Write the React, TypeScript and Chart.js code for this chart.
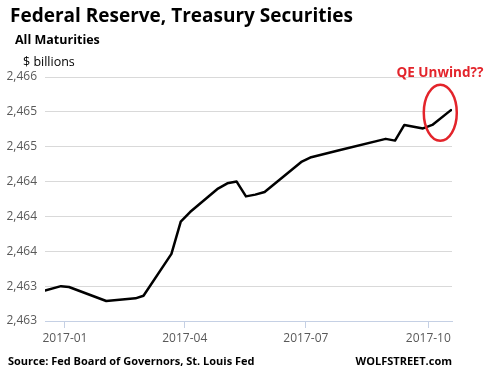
import React, { useEffect, useRef } from "react";
import { Chart, registerables } from "chart.js";

Chart.register(...registerables);

const DATES = [
  "2016-12-17", "2016-12-29", "2017-01-04", "2017-02-01", "2017-02-23", "2017-03-01",
  "2017-03-22", "2017-03-29", "2017-04-05", "2017-04-26", "2017-05-03", "2017-05-10",
  "2017-05-17", "2017-05-24", "2017-05-31", "2017-06-28", "2017-07-05", "2017-07-26",
  "2017-08-30", "2017-09-06", "2017-09-13", "2017-09-27", "2017-10-04", "2017-10-18",
];
const VALUES = [
  2463.15, 2463.2, 2463.19, 2463.03, 2463.06, 2463.09,
  2463.57, 2463.94, 2464.05, 2464.32, 2464.38, 2464.4,
  2464.23, 2464.25, 2464.28, 2464.63, 2464.68, 2464.76,
  2464.89, 2464.87, 2465.05, 2465.01, 2465.05, 2465.22,
];
const TICK_DATES = ["2017-01-01", "2017-04-01", "2017-07-01", "2017-10-01"];
const TICK_LABELS = ["2017-01", "2017-04", "2017-07", "2017-10"];
const X_MIN_DATE = "2016-12-17";
const X_MAX_DATE = "2017-10-18";
const Y_MIN = 2462.8;
const Y_MAX = 2465.6;
const Y_STEP = 0.4;
const ANNOT_DATE = "2017-10-10";
const ANNOT_VALUE = 2465.19;

const ORIGIN = Date.UTC(2017, 0, 1);
const toDay = (s: string) => {
  const [y, m, d] = s.split("-").map(Number);
  return (Date.UTC(y, m - 1, d) - ORIGIN) / 86400000;
};

const FONT = "'Open Sans', sans-serif";

export default function App() {
  const ref = useRef<HTMLCanvasElement | null>(null);
  useEffect(() => {
    if (!ref.current) return;
    const tickDays = TICK_DATES.map(toDay);
    const ellipsePlugin = {
      id: "ellipse",
      afterDatasetsDraw(chart: any) {
        const { ctx, scales } = chart;
        const cx = scales.x.getPixelForValue(toDay(ANNOT_DATE));
        const cy = scales.y.getPixelForValue(ANNOT_VALUE);
        ctx.save();
        ctx.beginPath();
        ctx.ellipse(cx, cy, 16.5, 28, 0, 0, Math.PI * 2);
        ctx.strokeStyle = "#e3242b";
        ctx.lineWidth = 2.5;
        ctx.stroke();
        ctx.restore();
      },
    };
    const chart = new Chart(ref.current, {
      type: "line",
      data: {
        datasets: [
          {
            data: DATES.map((d, i) => ({ x: toDay(d), y: VALUES[i] })),
            borderColor: "#000000",
            borderWidth: 2.5,
            pointRadius: 0,
            tension: 0,
            borderJoinStyle: "round",
            borderCapStyle: "round",
            fill: false,
          },
        ],
      },
      options: {
        animation: false,
        responsive: false,
        layout: { padding: { top: 77, right: 36, left: 0, bottom: 33 } },
        plugins: {
          legend: { display: false },
          tooltip: { enabled: false },
        },
        scales: {
          x: {
            type: "linear",
            min: toDay(X_MIN_DATE) ,
            max: toDay(X_MAX_DATE) + 0.8,
            afterBuildTicks: (scale: any) => {
              scale.ticks = tickDays.map((v) => ({ value: v }));
            },
            afterFit: (scale: any) => {
              scale.height = 30;
            },
            ticks: {
              autoSkip: false,
              maxRotation: 0,
              padding: 3,
              color: "#595959",
              font: { family: FONT, size: 12 },
              callback: (_v: any, i: number) => TICK_LABELS[i],
            },
            grid: {
              drawOnChartArea: false,
              drawTicks: true,
              tickLength: 7,
              color: "#c5d0e4",
              lineWidth: 1,
            },
            border: { color: "#c5d0e4", width: 1 },
          },
          y: {
            min: Y_MIN,
            max: Y_MAX,
            afterFit: (scale: any) => {
              scale.width = 45;
            },
            ticks: {
              stepSize: Y_STEP,
              padding: 8,
              color: "#595959",
              font: { family: FONT, size: 12 },
              callback: (v: any) => Math.round(Number(v)).toLocaleString("en-US"),
            },
            grid: { color: "#d9d9d9", drawTicks: false, lineWidth: 1 },
            border: { display: false },
          },
        },
      },
      plugins: [ellipsePlugin],
    } as any);
    return () => chart.destroy();
  }, []);

  const txt = (extra: React.CSSProperties): React.CSSProperties => ({
    position: "absolute",
    fontFamily: FONT,
    lineHeight: 1,
    whiteSpace: "nowrap",
    color: "#000",
    ...extra,
  });

  return (
    <div style={{ position: "fixed", left: 0, top: 0, width: 488, height: 384, background: "#fff" }}>
      <canvas ref={ref} width={488} height={384} style={{ display: "block", position: "absolute", left: 0, top: 0 }} />
      <div style={txt({ left: 10, top: 5.8, fontSize: 19, fontWeight: 700 })}>Federal Reserve, Treasury Securities</div>
      <div style={txt({ left: 15, top: 34, fontSize: 12.5, fontWeight: 700 })}>All Maturities</div>
      <div style={txt({ left: 23, top: 55.6, fontSize: 12.5, fontWeight: 400 })}>$ billions</div>
      <div style={txt({ left: 396.5, top: 66.3, fontSize: 13.5, fontWeight: 700, color: "#e3242b" })}>QE Unwind??</div>
      <div style={txt({ left: 8, top: 354.5, fontSize: 11, fontWeight: 700 })}>Source: Fed Board of Governors, St. Louis Fed</div>
      <div style={txt({ right: 36, top: 354.5, fontSize: 11, fontWeight: 700 })}>WOLFSTREET.com</div>
    </div>
  );
}
